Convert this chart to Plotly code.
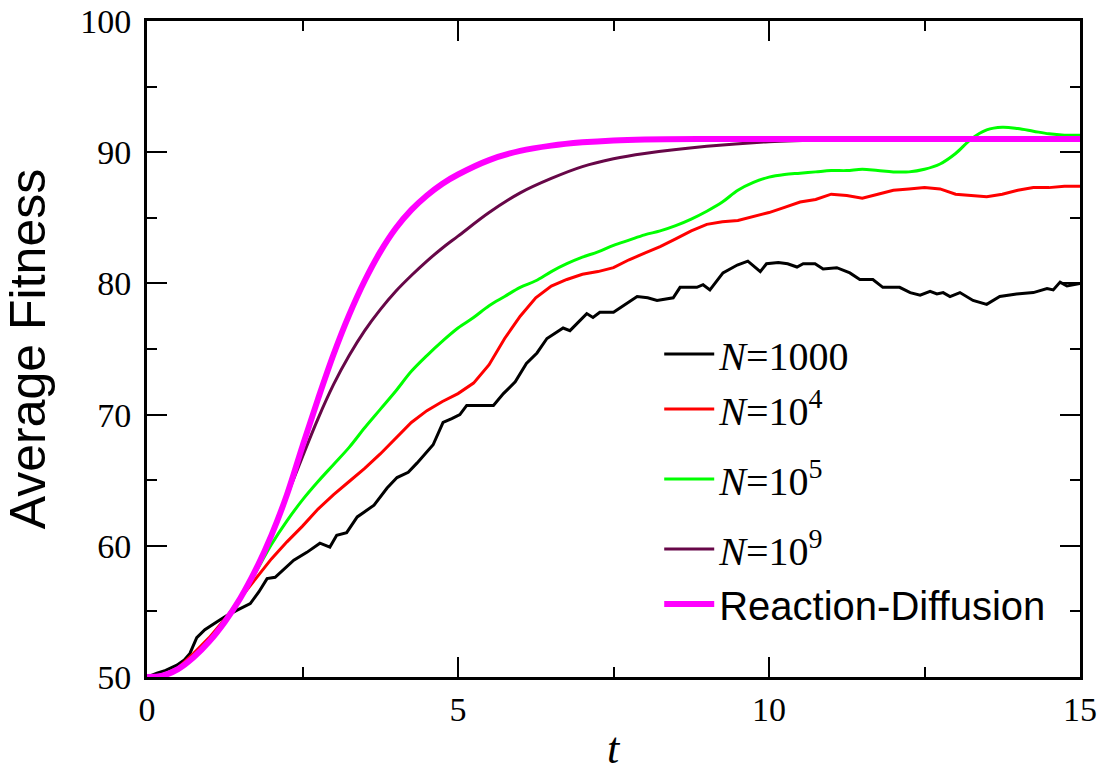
import plotly.graph_objects as go

# ---- data ----
T_Q = [0.0, 0.25, 0.5, 0.75, 1.0, 1.25, 1.5, 1.75, 2.0, 2.25, 2.5, 2.75, 3.0, 3.25, 3.5, 3.75,
       4.0, 4.25, 4.5, 4.75, 5.0, 5.25, 5.5, 5.75, 6.0, 6.25, 6.5, 6.75, 7.0, 7.25, 7.5, 7.75,
       8.0, 8.25, 8.5, 8.75, 9.0, 9.25, 9.5, 9.75, 10.0, 10.25, 10.5, 10.75, 11.0, 11.25, 11.5,
       11.75, 12.0, 12.25, 12.5, 12.75, 13.0, 13.25, 13.5, 13.75, 14.0, 14.25, 14.5, 14.75, 15.0]

T_S = [0, 0.25, 0.5, 0.75, 1.0, 1.25, 1.5, 1.75, 2.0, 2.25, 2.5, 2.75, 3.0, 3.25, 3.5, 3.75,
       4.0, 4.25, 4.5, 4.75, 5.0, 5.5, 6.0, 6.5, 7.0, 7.5, 8.0, 9.0, 10, 11, 12, 13, 14, 15]

t_black = [0, 0.16, 0.3, 0.48, 0.6, 0.69, 0.8, 0.93, 1.12, 1.29, 1.45, 1.66, 1.8, 1.93, 2.06,
           2.2, 2.36, 2.57, 2.78, 2.94, 3.05, 3.21, 3.38, 3.5, 3.65, 3.86, 4.02, 4.2, 4.34, 4.6,
           4.76, 4.9, 5.03, 5.14, 5.35, 5.57, 5.73, 5.92, 6.1, 6.27, 6.43, 6.69, 6.8, 7.07, 7.17,
           7.28, 7.5, 7.7, 7.88, 8.05, 8.2, 8.46, 8.57, 8.84, 8.94, 9.05, 9.26, 9.49, 9.66, 9.86,
           9.96, 10.15, 10.3, 10.45, 10.55, 10.74, 10.87, 11.09, 11.3, 11.46, 11.67, 11.83, 12.1,
           12.27, 12.43, 12.59, 12.7, 12.8, 12.91, 13.07, 13.28, 13.5, 13.71, 13.98, 14.25, 14.47,
           14.57, 14.68, 14.79, 15.0]
f_black = [50, 50.3, 50.5, 50.9, 51.3, 51.8, 53.0, 53.6, 54.2, 54.7, 55.1, 55.6, 56.5, 57.5, 57.6,
           58.2, 58.9, 59.5, 60.2, 59.9, 60.8, 61.0, 62.2, 62.6, 63.1, 64.4, 65.2, 65.6, 66.3, 67.7,
           69.4, 69.7, 70.0, 70.7, 70.7, 70.7, 71.6, 72.5, 73.9, 74.7, 75.8, 76.6, 76.4, 77.7, 77.4,
           77.8, 77.8, 78.4, 79.0, 78.9, 78.7, 78.9, 79.7, 79.7, 79.9, 79.5, 80.8, 81.4, 81.7, 80.9,
           81.5, 81.6, 81.5, 81.25, 81.5, 81.5, 81.1, 81.2, 80.8, 80.3, 80.3, 79.7, 79.7,
           79.3, 79.1, 79.4, 79.2, 79.3, 79.0, 79.3, 78.7, 78.4, 79.0, 79.2, 79.3, 79.6,
           79.5, 80.1, 79.8, 80.0]

f_1e4 = [50.0, 50.1, 50.7, 51.8, 53.0, 54.4, 56.0, 57.5, 59.0, 60.3,
         61.5, 62.8, 63.9, 64.9, 65.9, 67.0, 68.2, 69.4, 70.3, 71.0,
         71.6, 72.4, 73.8, 75.8, 77.5, 78.9, 79.8, 80.3, 80.7, 80.9,
         81.2, 81.8, 82.3, 82.8, 83.4, 84.0, 84.5, 84.7, 84.8, 85.1,
         85.4, 85.8, 86.2, 86.4, 86.8, 86.7, 86.5, 86.8, 87.1, 87.2,
         87.3, 87.2, 86.8, 86.7, 86.6, 86.8, 87.1, 87.3, 87.3, 87.4, 87.4]

f_1e5 = [50.0, 50.1, 50.6, 51.6, 52.8, 54.3, 56.0, 58.0, 60.1, 61.9,
         63.5, 64.9, 66.2, 67.5, 69.0, 70.4, 71.8, 73.3, 74.5, 75.6,
         76.6, 77.4, 78.3, 79.0, 79.7, 80.2, 80.9, 81.5, 82.0, 82.4,
         82.9, 83.3, 83.7, 84.0, 84.4, 84.9, 85.5, 86.2, 87.1, 87.7,
         88.1, 88.3, 88.4, 88.5, 88.6, 88.6, 88.7, 88.6, 88.5, 88.5,
         88.7, 89.1, 89.9, 91.0, 91.7, 91.9, 91.8, 91.6, 91.4, 91.3, 91.3]

f_1e9 = [50, 50.1, 50.6, 51.5, 52.7, 54.2, 56.0, 58.2, 60.8, 63.8, 66.8, 69.7, 72.3, 74.5, 76.4,
         78.0, 79.4, 80.6, 81.7, 82.7, 83.6, 85.4, 86.9, 88.0, 88.9, 89.5, 89.9, 90.45, 90.8,
         90.95, 91.0, 91.0, 91.0, 91.0]

f_rd = [50, 50.1, 50.6, 51.5, 52.7, 54.2, 56.0, 58.2, 60.8, 63.9, 67.6, 71.2, 74.6, 77.6, 80.2,
        82.4, 84.2, 85.6, 86.7, 87.6, 88.3, 89.4, 90.1, 90.5, 90.75, 90.9, 90.97, 91.0, 91.0,
        91.0, 91.0, 91.0, 91.0, 91.0]

X_TICKS = [0, 5, 10, 15]
Y_TICKS = [50, 60, 70, 80, 90, 100]

SERIF = "Liberation Serif, Times New Roman, serif"
SANS = "Liberation Sans, Arial, sans-serif"

fig = go.Figure()
fig.add_trace(go.Scatter(x=t_black, y=f_black, mode="lines", name="<i>N</i>=1000",
                         line=dict(color="#000000", width=3), legend="legend"))
fig.add_trace(go.Scatter(x=T_Q, y=f_1e4, mode="lines", name="<i>N</i>=10<sup>4</sup>",
                         line=dict(color="#ff0000", width=3), legend="legend"))
fig.add_trace(go.Scatter(x=T_Q, y=f_1e5, mode="lines", name="<i>N</i>=10<sup>5</sup>",
                         line=dict(color="#00ff00", width=3, shape="spline"), legend="legend2"))
fig.add_trace(go.Scatter(x=T_S, y=f_1e9, mode="lines", name="<i>N</i>=10<sup>9</sup>",
                         line=dict(color="#670748", width=3, shape="spline"), legend="legend3"))
fig.add_trace(go.Scatter(x=T_S, y=f_rd, mode="lines",
                         name='<span style="font-family:Liberation Sans, Arial, sans-serif">Reaction-Diffusion</span>',
                         line=dict(color="#ff00ff", width=6, shape="spline"), legend="legend3"))

axis_common = dict(
    showline=True, linecolor="black", linewidth=3, mirror="allticks",
    ticks="inside", ticklen=20, tickwidth=2, tickcolor="black",
    showgrid=False, zeroline=False,
    tickfont=dict(family=SERIF, size=34, color="black"),
)

fig.update_xaxes(range=[0, 15], tickvals=X_TICKS,
                 minor=dict(dtick=2.5, ticks="inside", ticklen=10, tickwidth=2, tickcolor="black", showgrid=False),
                 **axis_common)
fig.update_yaxes(range=[50, 100], tickvals=Y_TICKS, ticklabelstandoff=6,
                 minor=dict(dtick=5, ticks="inside", ticklen=10, tickwidth=2, tickcolor="black", showgrid=False),
                 title=dict(text="Average Fitness", font=dict(family=SANS, size=50, color="black"), standoff=30),
                 **axis_common)

# x-axis title placed as a paper-anchored annotation, kept inside the page
fig.add_annotation(text="<i>t</i>", xref="paper", yref="paper", x=0.5, y=-0.150,
                   xanchor="center", yanchor="bottom", showarrow=False,
                   font=dict(family=SERIF, size=44, color="black"))

leg_common = dict(xanchor="left", yanchor="top", bgcolor="rgba(0,0,0,0)", borderwidth=0,
                  font=dict(family=SERIF, size=40, color="black"),
                  tracegroupgap=0, itemwidth=50)

fig.update_layout(
    width=1103, height=776,
    margin=dict(l=147, r=23, t=21, b=99, autoexpand=False),
    paper_bgcolor="white", plot_bgcolor="white",
    showlegend=True,
    legend=dict(x=0.549, y=0.5419, **leg_common),
    legend2=dict(x=0.549, y=0.3514, **leg_common),
    legend3=dict(x=0.549, y=0.2447, **leg_common),
)

fig.write_html("out.html", config={"displayModeBar": False},
               post_script="document.body.style.margin='0';document.body.style.padding='0';document.body.style.overflow='hidden';")
